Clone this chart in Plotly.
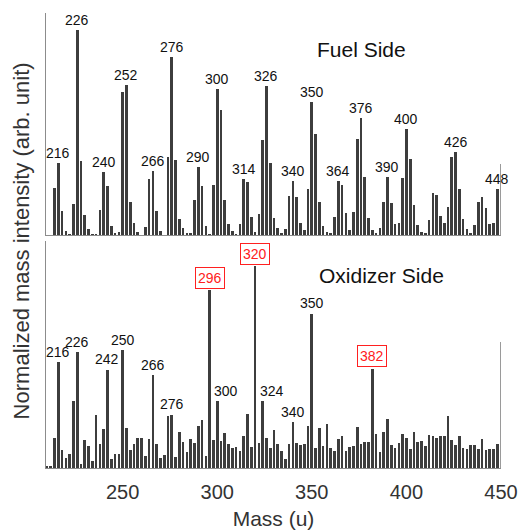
import plotly.graph_objects as go

masses = list(range(210, 451, 2))

fuel_values = [
    0, 0, 0.228, 0.350, 0.119, 0.020, 0.005, 0.150, 1.000, 0.361,
    0.098, 0.028, 0.005, 0.005, 0.122, 0.307, 0.239, 0.045, 0.010, 0.013,
    0.699, 0.732, 0.162, 0.057, 0.015, 0.000, 0.040, 0.272, 0.312, 0.117,
    0.021, 0.000, 0.382, 0.867, 0.366, 0.080, 0.034, 0.008, 0.008, 0.171,
    0.333, 0.239, 0.046, 0.005, 0.244, 0.712, 0.610, 0.173, 0.054, 0.021,
    0.005, 0.054, 0.271, 0.259, 0.088, 0.014, 0.102, 0.463, 0.728, 0.351,
    0.083, 0.032, 0.008, 0.029, 0.190, 0.265, 0.184, 0.060, 0.024, 0.223,
    0.647, 0.491, 0.162, 0.045, 0.016, 0.008, 0.086, 0.265, 0.242, 0.106,
    0.024, 0.114, 0.468, 0.569, 0.281, 0.083, 0.026, 0.011, 0.036, 0.162,
    0.284, 0.158, 0.052, 0.060, 0.277, 0.516, 0.369, 0.145, 0.050, 0.016,
    0.008, 0.073, 0.203, 0.197, 0.093, 0.057, 0.138, 0.379, 0.406, 0.223,
    0.077, 0.028, 0.011, 0.050, 0.162, 0.184, 0.132, 0.054, 0.060, 0.223,
    0.345,
]

oxidizer_values = [
    0.010, 0.013, 0.150, 0.525, 0.089, 0.051, 0.073, 0.333, 0.574, 0.023,
    0.139, 0.112, 0.036, 0.262, 0.122, 0.195, 0.489, 0.048, 0.069, 0.073,
    0.584, 0.200, 0.093, 0.122, 0.152, 0.152, 0.063, 0.145, 0.460, 0.122,
    0.051, 0.066, 0.261, 0.266, 0.056, 0.180, 0.130, 0.079, 0.144, 0.125,
    0.211, 0.238, 0.059, 0.881, 0.142, 0.333, 0.134, 0.175, 0.122, 0.102,
    0.105, 0.088, 0.160, 0.271, 0.105, 1.000, 0.125, 0.333, 0.152, 0.102,
    0.188, 0.119, 0.086, 0.046, 0.119, 0.228, 0.127, 0.114, 0.122, 0.208,
    0.766, 0.099, 0.198, 0.112, 0.218, 0.100, 0.084, 0.144, 0.162, 0.086,
    0.105, 0.109, 0.204, 0.119, 0.130, 0.130, 0.494, 0.168, 0.081, 0.182,
    0.246, 0.117, 0.102, 0.125, 0.168, 0.150, 0.094, 0.178, 0.129, 0.137,
    0.110, 0.167, 0.162, 0.152, 0.162, 0.162, 0.257, 0.142, 0.115, 0.160,
    0.102, 0.094, 0.115, 0.115, 0.098, 0.147, 0.093, 0.094, 0.098, 0.119,
    0.625,
]

fuel_labels = [216, 226, 240, 252, 266, 276, 290, 300, 314, 326, 340, 350,
               364, 376, 390, 400, 426, 448]
oxidizer_labels = [216, 226, 242, 250, 266, 276, 300, 324, 340, 350]
oxidizer_boxed = [296, 320, 382]

tick_values = [250, 300, 350, 400, 450]

label_xshift = {300: 9, 324: 9}

BAR = "#3d3d3d"
EDGE_BAR = "#9a9a9a"
AX = "#8c8c8c"
FONT = "Liberation Sans, Arial, sans-serif"

bar_colors = [BAR] * (len(masses) - 1) + [EDGE_BAR]

fig = go.Figure()
fig.add_trace(go.Bar(x=masses, y=fuel_values, width=1.4, marker=dict(color=bar_colors, line=dict(width=0)),
                     xaxis="x", yaxis="y", showlegend=False, hoverinfo="skip"))
fig.add_trace(go.Bar(x=masses, y=oxidizer_values, width=1.4, marker=dict(color=bar_colors, line=dict(width=0)),
                     xaxis="x2", yaxis="y2", showlegend=False, hoverinfo="skip"))

annotations = []
for m in fuel_labels:
    v = fuel_values[masses.index(m)]
    annotations.append(dict(x=m, y=v, xref="x", yref="y", text=str(m), showarrow=False,
                            yanchor="bottom", xanchor="center", font=dict(size=14, color="#111111", family=FONT)))
for m in oxidizer_labels:
    v = oxidizer_values[masses.index(m)]
    annotations.append(dict(x=m, y=v, xref="x2", yref="y2", text=str(m), showarrow=False,
                            xshift=label_xshift.get(m, 0),
                            yanchor="bottom", xanchor="center", font=dict(size=14, color="#111111", family=FONT)))
for m in oxidizer_boxed:
    v = oxidizer_values[masses.index(m)]
    annotations.append(dict(x=m, y=v, xref="x2", yref="y2", text=str(m), showarrow=False,
                            yanchor="bottom", xanchor="center", yshift=1,
                            bordercolor="#ff2020", borderwidth=1, borderpad=2,
                            font=dict(size=14, color="#ff2020", family=FONT)))

annotations.append(dict(x=0.694, y=0.919, xref="paper", yref="paper", text="Fuel Side", showarrow=False,
                        xanchor="center", yanchor="middle", font=dict(size=21, color="#111111", family=FONT)))
annotations.append(dict(x=0.738, y=0.424, xref="paper", yref="paper", text="Oxidizer Side", showarrow=False,
                        xanchor="center", yanchor="middle", font=dict(size=21, color="#111111", family=FONT)))
annotations.append(dict(x=-0.053, y=0.50, xref="paper", yref="paper",
                        text="Normalized mass intensity (arb. unit)", showarrow=False, textangle=-90,
                        xanchor="center", yanchor="middle", font=dict(size=22, color="#333333", family=FONT)))

xcommon = dict(range=[209.5, 450.0], showgrid=False, zeroline=False, showline=True, automargin=False,
               linecolor=AX, linewidth=1, ticks="", tickvals=tick_values)

fig.update_layout(
    width=519, height=532,
    margin=dict(l=46, r=18, t=13, b=64, autoexpand=False),
    paper_bgcolor="white", plot_bgcolor="white",
    bargap=0,
    hovermode=False,
    font=dict(family=FONT),
    xaxis=dict(**xcommon, anchor="y", showticklabels=False),
    yaxis=dict(domain=[0.512, 1.0], range=[0, 1.083], showgrid=False, zeroline=False, automargin=False,
               showline=True, linecolor=AX, linewidth=1, showticklabels=False, ticks=""),
    xaxis2=dict(**xcommon, anchor="y2", showticklabels=True,
                tickfont=dict(size=20, color="#333333", family=FONT),
                ticklabelstandoff=6,
                title=dict(text="Mass (u)", font=dict(size=21, color="#333333", family=FONT), standoff=9)),
    yaxis2=dict(domain=[0.0, 0.4996], range=[0, 1.125], showgrid=False, zeroline=False, automargin=False,
                showline=True, linecolor=AX, linewidth=1, showticklabels=False, ticks=""),
    annotations=annotations,
)

fig.write_html("out.html", config={"displayModeBar": False},
               post_script="document.body.style.margin='0';document.body.style.padding='0';")
